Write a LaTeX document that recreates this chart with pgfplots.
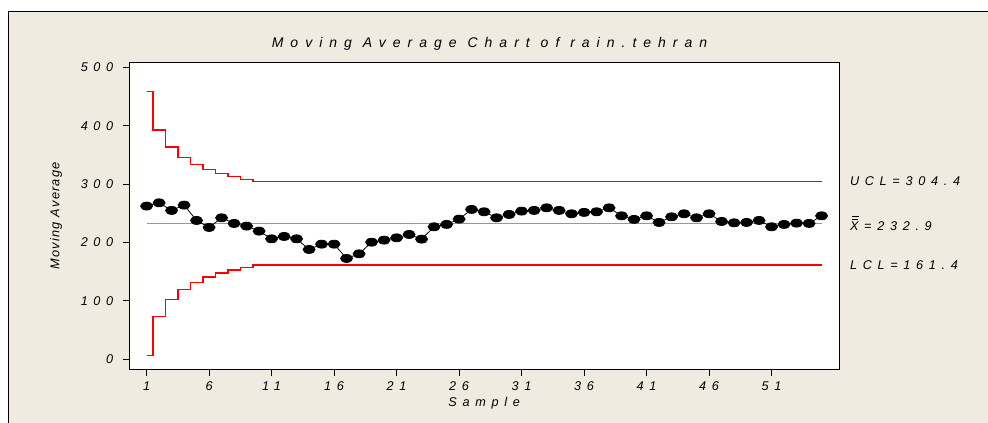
\documentclass[border=0pt]{standalone}
\usepackage{pgfplots}
\pgfplotsset{compat=1.18}
\usepackage{fontspec}
\setmainfont{Liberation Sans}
\newfontfamily\spaced{Liberation Sans}[LetterSpace=45]
\newfontfamily\spacedt{Liberation Sans}[LetterSpace=50]
\newfontfamily\yfont{Liberation Sans}[LetterSpace=10]
\definecolor{bg}{RGB}{239,235,224}
\definecolor{limred}{RGB}{255,0,0}
\definecolor{clgreen}{RGB}{60,215,60}
\pgfplotstableread{
x y
1 262.3
2 267.9
3 254.9
4 264.0
5 237.7
6 225.7
7 242.2
8 232.6
9 228.0
10 219.4
11 206.2
12 210.3
13 206.2
14 188.0
15 197.1
16 197.1
17 172.6
18 180.5
19 200.5
20 204.0
21 207.9
22 213.7
23 205.7
24 226.8
25 230.9
26 240.0
27 256.6
28 252.5
29 242.2
30 248.0
31 253.7
32 254.9
33 259.3
34 254.9
35 249.1
36 251.5
37 252.5
38 259.3
39 245.6
40 239.5
41 245.6
42 234.3
43 243.9
44 249.1
45 242.2
46 249.1
47 236.0
48 233.6
49 234.3
50 237.7
51 226.8
52 230.9
53 233.1
54 232.6
55 245.6
}\madata
\pgfplotstableread{
x ucl lcl
1 459.0 6.8
2 392.8 73.0
3 363.4 102.4
4 346.0 119.9
5 334.0 131.8
6 325.2 140.6
7 318.4 147.4
8 312.8 153.0
9 308.3 157.5
10 304.4 161.4
55 304.4 161.4
}\limtable
\newcommand\xbb{\makebox[0pt][l]{\hspace{1.2pt}\raisebox{7.9pt}{\rule{5pt}{0.5pt}}}\makebox[0pt][l]{\hspace{1.6pt}\raisebox{10.6pt}{\rule{5pt}{0.5pt}}}X}
\begin{document}
\begin{tikzpicture}
\path[use as bounding box, fill=white] (0,0) rectangle (741pt,317.25pt);
\fill[bg] (6pt,0) rectangle (741pt,309pt);
\draw[black, line width=0.75pt] (6.2pt,0) -- (6.2pt,308.9pt) -- (741pt,308.9pt);
\begin{axis}[
  at={(97pt,40.1pt)}, anchor=south west,
  scale only axis, width=532.3pt, height=230.4pt,
  xmin=-0.38, xmax=56.4, ymin=-17.7, ymax=508.6,
  axis background/.style={fill=white},
  axis line style={line width=0.75pt},
  xtick={1,6,...,51}, ytick={0,100,...,500},
  tick align=outside, tick pos=left, major tick length=4.5pt,
  tick style={black, line width=0.75pt},
  /pgf/number format/assume math mode=true,
  tick label style={font=\spaced\itshape\fontsize{9.5}{11}\selectfont},
  yticklabel style={xshift=-4pt},
  xticklabel style={yshift=-1pt},
  xlabel={Sample},
  xlabel style={font=\spaced\itshape\fontsize{9.5}{11}\selectfont, at={(axis description cs:0.5,0)}, anchor=center, yshift=-25pt},
  ylabel={Moving Average},
  ylabel style={font=\yfont\itshape\fontsize{9.6}{11}\selectfont, at={(axis description cs:0,0.5)}, anchor=center, rotate=0, yshift=55pt},
  title={Moving Average Chart of rain.tehran},
  title style={font=\spacedt\itshape\fontsize{10.5}{12}\selectfont, at={(axis description cs:0.5,1)}, anchor=base, yshift=5pt, xshift=4pt},
  clip=false,
]
\addplot[draw=limred, line width=1pt, const plot mark mid] table[x=x, y=ucl] {\limtable};
\addplot[draw=limred, line width=1pt, const plot mark mid] table[x=x, y=lcl] {\limtable};
\addplot[draw=clgreen, line width=1pt] coordinates {(1,232.9) (55,232.9)};
\addplot[black, line width=0.6pt, mark=*, mark size=3pt, mark options={xscale=1.5, fill=black}] table[x=x, y=y] {\madata};
\node[anchor=west, font=\spaced\itshape\fontsize{9.5}{11}\selectfont] at (axis cs:56.9,304.4) {UCL=304.4};
\node[anchor=west, font=\spaced\itshape\fontsize{9.5}{11}\selectfont] at (axis cs:56.9,232.9) {\xbb=232.9};
\node[anchor=west, font=\spaced\itshape\fontsize{9.5}{11}\selectfont] at (axis cs:56.9,161.4) {LCL=161.4};
\end{axis}
\end{tikzpicture}
\end{document}
